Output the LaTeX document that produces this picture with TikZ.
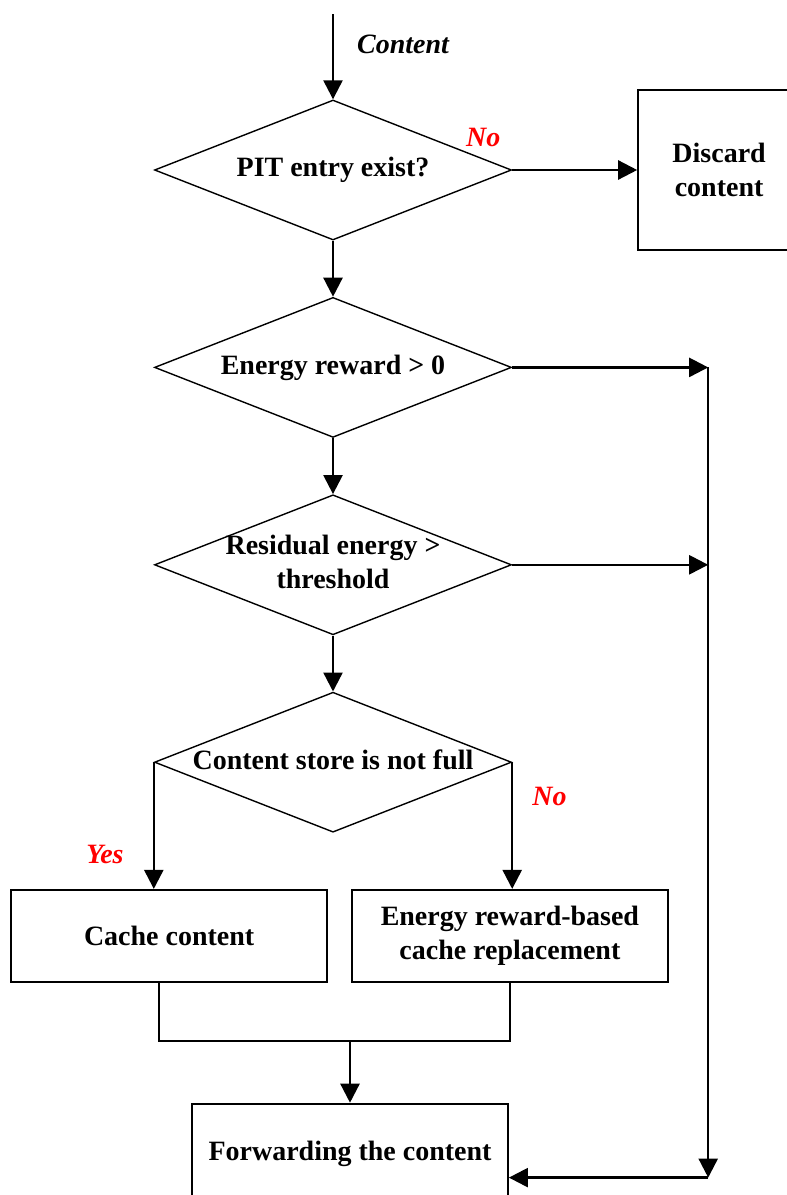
\documentclass[tikz,border=0pt]{standalone}
\usepackage{fontspec}
\setmainfont{Liberation Serif}
\usetikzlibrary{arrows.meta,positioning,shapes.geometric}
\newcommand{\condtext}[1]{\makebox[0pt]{\begin{tabular}{@{}c@{}}#1\end{tabular}}}
\tikzset{
  decyzja/.style  = {draw, diamond, minimum width=89.25mm, minimum height=35mm,
                     inner sep=0pt, line width=0.35mm,
                     font=\fontsize{19.9}{24.2}\selectfont\bfseries},
  blok/.style     = {draw, align=center, inner sep=0pt, line width=0.45mm,
                     minimum width=79mm, minimum height=23mm,
                     font=\fontsize{19.9}{24.2}\selectfont\bfseries},
  etykieta/.style = {inner sep=0pt, text=red,
                     font=\fontsize{19.9}{24.2}\selectfont\bfseries\itshape},
  strzalka/.style = {-{Triangle[length=4.75mm,width=4.75mm]}, line width=0.6mm},
  linia/.style    = {line width=0.6mm},
}
\begin{document}
\begin{tikzpicture}
  \useasboundingbox (0,0) rectangle (196.5mm,-298.75mm);

  \node[decyzja] (pit) at (83.25mm,-42.5mm) {\condtext{PIT entry exist?}};
  \node[decyzja, below=14mm of pit] (reward) {\condtext{Energy reward > 0}};
  \node[decyzja, below=14mm of reward] (residual) {\condtext{Residual energy >\\threshold}};
  \node[decyzja, below=14mm of residual] (store) {\condtext{Content store is not full}};

  \node[blok, minimum width=40.5mm, minimum height=40mm, right=31.25mm of pit] (discard) {Discard\\content};
  \node[blok, below left=14mm and 1.25mm of store.south] (cache) {Cache content};
  \node[blok, below right=14mm and 4.5mm of store.south] (energy) {Energy reward-based\\cache replacement};
  \node[blok, minimum height=25mm, below right=30mm and 5.5mm of cache.south] (fwd) {Forwarding the content};

  \coordinate[above=21.25mm of pit.north] (start);
  \coordinate[right=49mm of reward.east] (j1);
  \coordinate[right=49mm of residual.east] (j2);
  \coordinate (j3) at ([yshift=-6mm]j1 |- fwd.east);

  \draw[strzalka] (start) -- node[etykieta, pos=0.35, right=5.75mm, text=black] {Content} (pit);
  \draw[strzalka] (pit) -- node[etykieta, at start, xshift=-7.25mm, yshift=8.25mm] {No} (discard);
  \draw[strzalka] (pit) -- (reward);
  \draw[strzalka] (reward) -- (residual);
  \draw[strzalka] (residual) -- (store);
  \draw[strzalka] (reward) -- (j1);
  \draw[strzalka] (residual) -- (j2);
  \draw[strzalka] (j1) -- (j3);
  \draw[strzalka] (j3) -- (j3 -| fwd.east);

  \draw[strzalka] (store.west) -- node[etykieta, pos=0.73, left=7.25mm] {Yes} (store.west |- cache.north);
  \draw[strzalka] (store.east) -- node[etykieta, pos=0.27, right=4.75mm] {No} (store.east |- energy.north);
  \draw[linia] ([xshift=-2.5mm]cache.south) -- ++(0,-14.5mm) coordinate (laczenie) -| (energy.south);
  \draw[strzalka] (laczenie -| fwd.north) -- (fwd);
\end{tikzpicture}
\end{document}
